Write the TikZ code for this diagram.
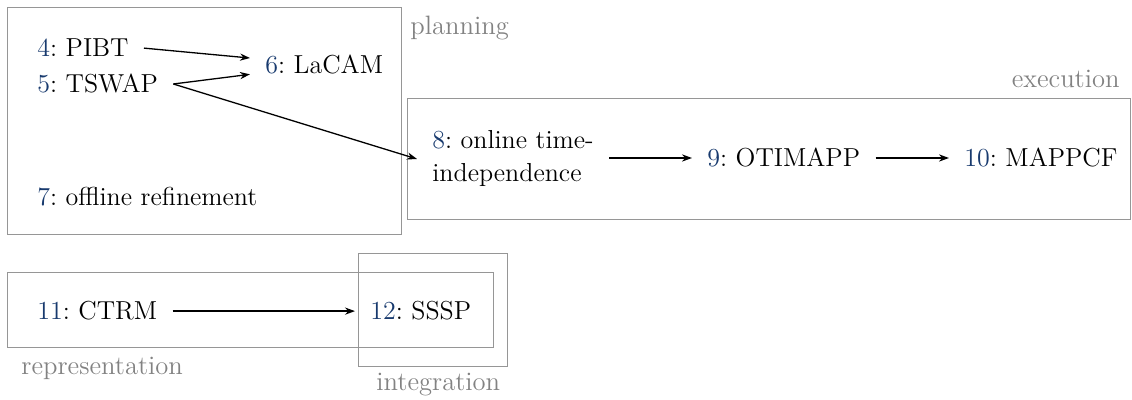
\documentclass[tikz,border=0pt]{standalone}
\usetikzlibrary{arrows.meta}
\definecolor{numblue}{RGB}{24,58,110}
\definecolor{labelgray}{RGB}{130,130,130}
\definecolor{framegray}{RGB}{150,150,150}
\newcommand{\refnum}[1]{\textcolor{numblue}{#1}}
\begin{document}
\frenchspacing
\begin{tikzpicture}[x=0.5pt,y=-0.5pt,
  item/.style={font=\fontsize{13}{16.5}\selectfont, inner xsep=7.5pt, inner ysep=2pt, align=left},
  grouplabel/.style={font=\fontsize{13.3}{16.5}\selectfont, text=labelgray, inner sep=0pt},
  frame/.style={draw=framegray, line width=0.5pt},
  link/.style={-{Stealth[length=5pt,width=3.6pt]}, line width=0.65pt}]
\useasboundingbox (0,0) rectangle (1132,400);

% group frames
\draw[frame] (7,8) rectangle (401,235);
\draw[frame] (407,99) rectangle (1130,220);
\draw[frame] (7,273) rectangle (493,348);
\draw[frame] (358,254) rectangle (507,367);

% group labels
\node[grouplabel, anchor=base west] (lplan) at (410,35) {planning};
\node[grouplabel, anchor=base east] (lexec) at (1120,88) {execution};
\node[grouplabel, anchor=base west] (lrep) at (21,375) {representation};
\node[grouplabel, anchor=base west] (lint) at (376,391) {integration};

% planning
\node[item, anchor=base west] (n4) at (22,57) {\refnum{4}: PIBT};
\node[item, anchor=base west] (n5) at (22,93) {\refnum{5}: TSWAP};
\node[item, anchor=base west] (n6) at (250,74) {\refnum{6}: LaCAM};
\node[item, anchor=base west] (n7) at (22,206) {\refnum{7}: offline refinement};

% execution
\node[item, anchor=west] (n8) at (417,159) {\refnum{8}: online time-\\independence};
\node[item, anchor=base west] (n9) at (692,167) {\refnum{9}: OTIMAPP};
\node[item, anchor=base west] (n10) at (949,167) {\refnum{10}: MAPPCF};

% representation / integration
\node[item, anchor=base west] (n11) at (22,320) {\refnum{11}: CTRM};
\node[item, anchor=base west] (n12) at (355,320) {\refnum{12}: SSSP};

% connections
\draw[link] (n4.east) -- (n6);
\draw[link] (n5.east) -- (n6);
\draw[link] (n5.east) -- (n8.west);
\draw[link] (n8.east |- n9) -- (n9);
\draw[link] (n9) -- (n10);
\draw[link] (n11) -- (n12);
\end{tikzpicture}
\end{document}
